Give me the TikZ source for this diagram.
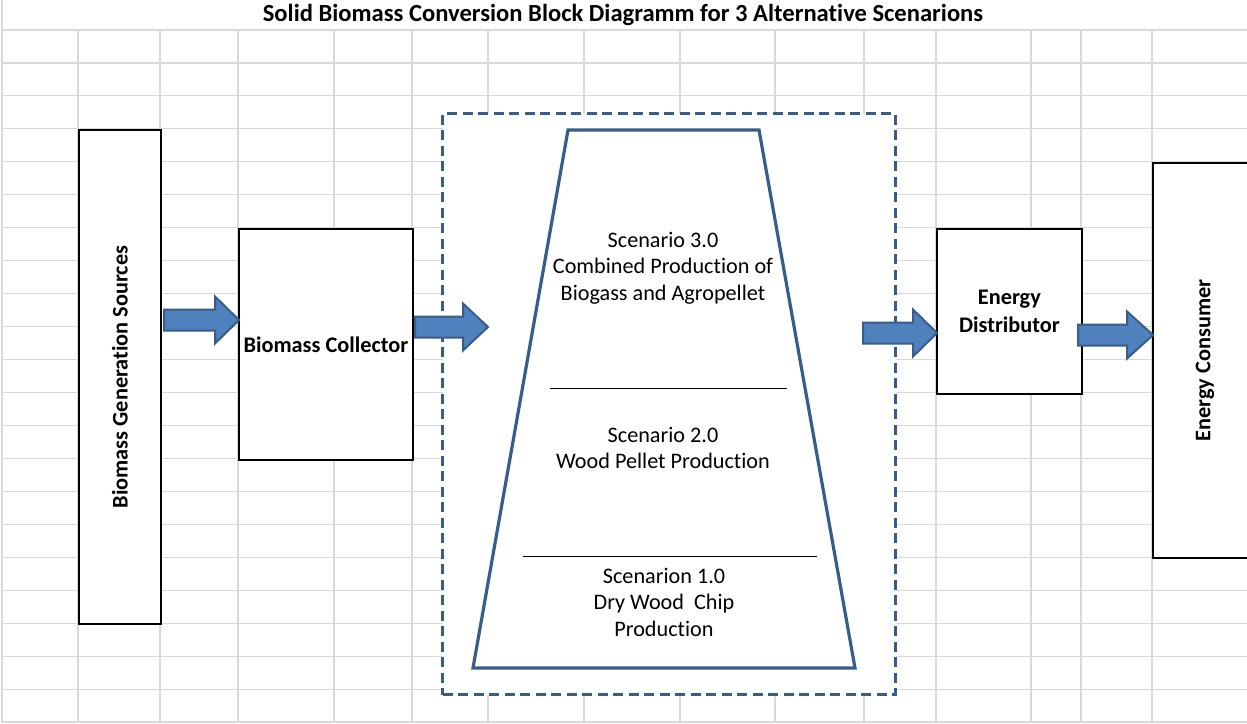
\documentclass[tikz,border=0pt]{standalone}
\usepackage{fontspec}
\setmainfont{Carlito}[Ligatures=NoCommon]
\definecolor{arrowfill}{HTML}{4F81BD}
\definecolor{arrowdraw}{HTML}{385D8A}
\definecolor{gridc}{HTML}{D9D9D9}
\begin{document}
\begin{tikzpicture}[x=1pt,y=-1pt,
  gridline/.style={draw=gridc,line width=1.1pt},
  blockbox/.style={draw=black,fill=white,line width=1.8pt,inner sep=0pt,anchor=north west},
  boldlbl/.style={font=\bfseries\fontsize{22.3}{28}\selectfont,align=center,inner sep=0pt},
  scen/.style={font=\fontsize{22.2}{26.5}\selectfont,align=center,inner sep=0pt},
  blockarrow/.style={fill=arrowfill,draw=arrowdraw,line width=2pt,line join=miter},
  sepline/.style={draw=black,line width=0.9pt}]
\useasboundingbox (0,0) rectangle (1247,723);
\fill[white] (0,0) rectangle (1247,723);
% spreadsheet grid
\draw[gridline] (2,0) -- (2,723);
\foreach \gx in {78,160,238,334,412,488,584,680,775,864,936,1031,1081,1152}
  \draw[gridline] (\gx,30) -- (\gx,723);
\foreach \k in {0,...,21}
  \draw[gridline] (2,{30+\k*32.952}) -- (1247,{30+\k*32.952});
% title
\node[font=\bfseries\fontsize{24.6}{28}\selectfont,inner sep=0pt] (title) at (623,15) {Solid Biomass Conversion Block Diagramm for 3 Alternative Scenarions};
% boxes
\node[blockbox,minimum width=82pt,minimum height=494pt] (src) at (78,129) {};
\node[boldlbl,rotate=90] (srcl) at (src.center) {Biomass Generation Sources};
\node[blockbox,minimum width=174pt,minimum height=231pt] (col) at (238,228) {};
\node[boldlbl] (coll) at (col.center) {Biomass Collector};
\node[blockbox,minimum width=145pt,minimum height=165pt] (dist) at (936,228) {};
\node[boldlbl] (distl) at (dist.center) {Energy\\Distributor};
\node[blockbox,minimum width=104pt,minimum height=395pt] (cons) at (1152,162) {};
\node[boldlbl,rotate=90] (consl) at (cons.center) {Energy Consumer};
% dashed scenario frame
\node[draw=arrowdraw,fill=white,dashed,dash pattern=on 10pt off 5.5pt,line width=3.4pt,
  minimum width=453pt,minimum height=581pt,anchor=north west,inner sep=0pt] (frame) at (441,112) {};
% trapezoid
\coordinate (tl) at (568,130);
\coordinate (tr) at (759,130);
\coordinate (br) at (855,668);
\coordinate (bl) at (473,668);
\draw[draw=arrowdraw,line width=3.2pt,line join=miter] (tl) -- (tr) -- (br) -- (bl) -- cycle;
\coordinate (s1a) at (550,388); \coordinate (s1b) at (787,388);
\coordinate (s2a) at (523,556); \coordinate (s2b) at (817,556);
\draw[sepline] (s1a) -- (s1b);
\draw[sepline] (s2a) -- (s2b);
\node[scen] (sc3) at (663,268) {Scenario 3.0\\Combined Production of\\Biogass and Agropellet};
\node[scen] (sc2) at (663,448) {Scenario 2.0\\Wood Pellet Production};
\node[scen] (sc1) at (664,602) {Scenarion 1.0\\Dry Wood\ \ Chip\\Production};
% block arrows
\newcommand{\blkarrow}[5]{% left, headbase, tip, centre y, name
  \draw[blockarrow] (#1,{#4-10.5}) -- (#2,{#4-10.5}) -- (#2,{#4-23.5}) -- (#3,#4)
    -- (#2,{#4+23.5}) -- (#2,{#4+10.5}) -- (#1,{#4+10.5}) -- cycle;
  \coordinate (#5) at (#3,#4);}
\blkarrow{164}{215}{239}{320}{a1}
\blkarrow{415}{463}{488}{327}{a2}
\blkarrow{863}{913}{937}{333}{a3}
\blkarrow{1078}{1127}{1153}{335}{a4}
\end{tikzpicture}
\end{document}
